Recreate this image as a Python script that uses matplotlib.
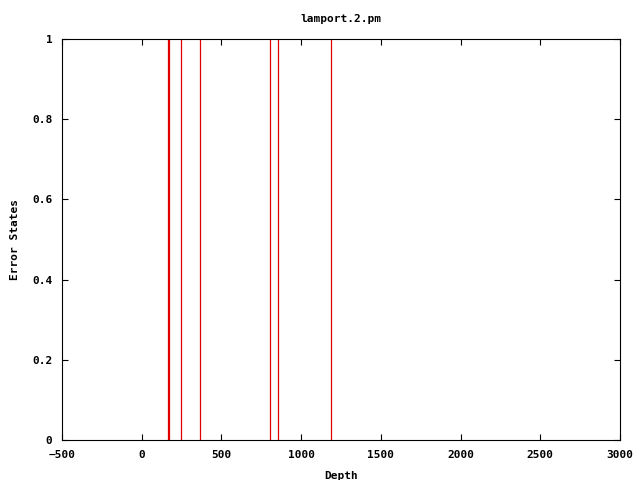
import matplotlib
matplotlib.use("Agg")
import matplotlib.pyplot as plt

# depths where an error state was hit
depths = [165, 172, 246, 368, 807, 857, 1189]
errors = [1, 1, 1, 1, 1, 1, 1]

x_ticks = [-500, 0, 500, 1000, 1500, 2000, 2500, 3000]
y_ticks = [0, 0.2, 0.4, 0.6, 0.8, 1]
y_labels = ["0", "0.2", "0.4", "0.6", "0.8", "1"]

plt.rcParams['font.family'] = ['DejaVu Sans Mono']
plt.rcParams['font.weight'] = 'bold'
plt.rcParams['font.size'] = 8

fig = plt.figure(figsize=(6.4, 4.8), dpi=100)
ax = fig.add_axes([62 / 640, 40 / 480, 558 / 640, 401 / 480])

ax.vlines(depths, 0, errors, colors="#e00000", linewidth=0.9)

ax.set_xlim(-500, 3000)
ax.set_ylim(0, 1)
ax.set_xticks(x_ticks)
ax.set_yticks(y_ticks)
ax.set_yticklabels(y_labels)
ax.tick_params(direction="in", length=4, width=0.8, top=True, right=True,
               labelsize=8, pad=7)
for spine in ax.spines.values():
    spine.set_linewidth(0.8)

ax.set_xlabel("Depth", fontweight="bold", labelpad=8)
ax.set_ylabel("Error States", fontweight="bold", labelpad=9)
ax.set_title("lamport.2.pm", fontweight="bold", fontsize=8, pad=12)

fig.savefig("out.png", dpi=100)
